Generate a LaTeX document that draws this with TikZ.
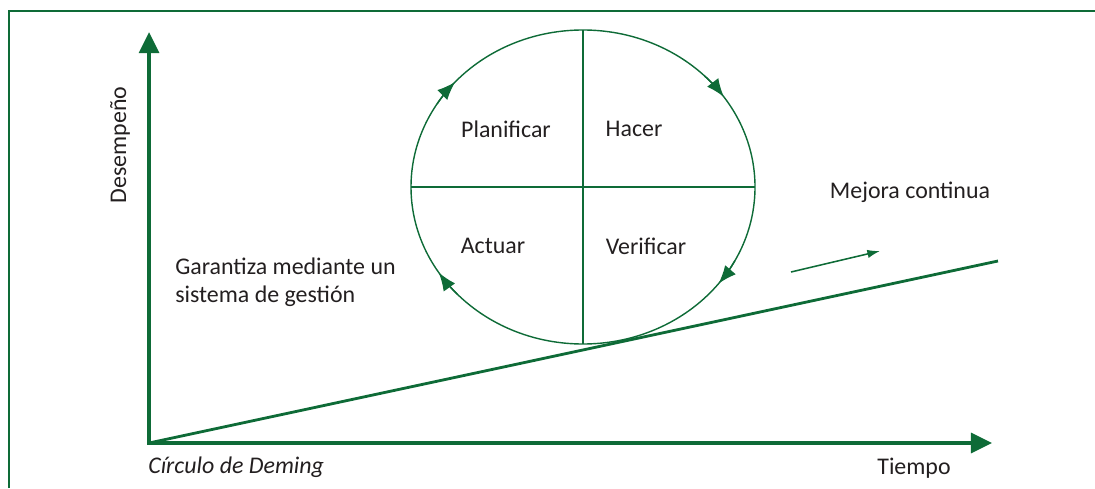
\documentclass[tikz,border=0pt]{standalone}
\usepackage{fontspec}
\setmainfont{Carlito}
\usepackage{xcolor}
\usepackage{tikz}
\usetikzlibrary{calc,arrows.meta}
\definecolor{pdca}{HTML}{0E6B37}
\definecolor{ink}{HTML}{231F20}
\tikzset{
  frame/.style={draw=pdca, line width=2pt},
  axes/.style={draw=pdca, line width=2.8pt, line join=miter,
    {Triangle[length=15pt,width=14pt]}-{Triangle[length=15pt,width=14pt]}},
  trend/.style={draw=pdca, line width=2pt},
  wheel/.style={draw=pdca, line width=1pt},
  turn/.style={draw=pdca, line width=1pt, -{Latex[length=13pt,width=10pt]}},
  hint/.style={draw=pdca, line width=1.1pt, -{Latex[length=9pt,width=6pt]}},
  lab/.style={text=ink, font=\fontsize{17}{20}\selectfont, inner sep=0pt},
}
\begin{document}
\begin{tikzpicture}[x=0.025cm,y=0.025cm]
  \useasboundingbox (0,0) rectangle (1095,488);
  \def\rx{172}
  \def\ry{157}
  % frame
  \coordinate (fb) at (9,0);
  \coordinate (fc) at (9,477);
  \coordinate (fr) at (1095,477);
  \draw[frame] (fb) -- (fc) -- (fr);
  % axes
  \coordinate (O) at (149,45);
  \coordinate (ytop) at (149,456);
  \coordinate (xend) at (992,45);
  \draw[axes] (ytop) -- (O) -- (xend);
  \coordinate (trendend) at (998,227);
  \draw[trend] (O) -- (trendend);
  % Deming wheel
  \coordinate (C) at (583,301);
  \coordinate (wt) at ($(C)+(0,\ry)$);
  \coordinate (wb) at ($(C)+(0,-\ry)$);
  \coordinate (wl) at ($(C)+(-\rx,0)$);
  \coordinate (wr) at ($(C)+(\rx,0)$);
  \draw[wheel] (C) ellipse [x radius=\rx, y radius=\ry];
  \draw[wheel] (wt) -- (wb);
  \draw[wheel] (wl) -- (wr);
  \foreach \t in {138,35,-38,-147}
    \draw[turn] ($(C)+({\rx*cos(\t+10)},{\ry*sin(\t+10)})$)
      arc[start angle=\t+10, end angle=\t, x radius=\rx, y radius=\ry];
  \node[lab] (plan) at (506,359) {Planificar};
  \node[lab] (hacer) at (634,359) {Hacer};
  \node[lab] (actuar) at (493,242) {Actuar};
  \node[lab] (verif) at (646,242) {Verificar};
  % labels
  \node[lab, rotate=90] (desemp) at (120,343) {Desempeño};
  \node[lab] (mejora) at (910,296) {Mejora continua};
  \coordinate (ha) at (791,216);
  \coordinate (hb) at (880,237);
  \draw[hint] (ha) -- (hb);
  \node[lab, anchor=west, align=left] (garant) at (175,206) {Garantiza mediante un\\sistema de gestión};
  \node[lab, anchor=west, font=\fontsize{17}{20}\selectfont\itshape] (deming) at (148,21) {Círculo de Deming};
  \node[lab] (tiempo) at (914,20) {Tiempo};
\end{tikzpicture}
\end{document}
